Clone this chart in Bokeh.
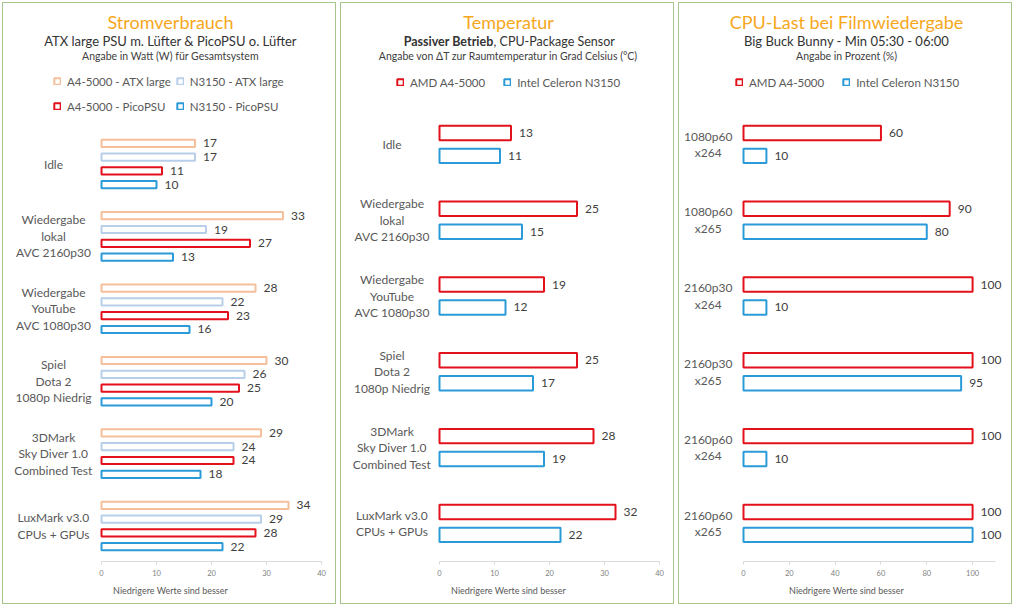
from bokeh.plotting import figure
from bokeh.models import Range1d, Label, Legend, LegendItem, ColumnDataSource, FixedTicker
from bokeh.layouts import row
from bokeh.transform import dodge
from bokeh.embed import file_html
from bokeh.resources import INLINE
from bokeh.core.properties import value

FONT = "Lato"

# ---------------- data ----------------
power_categories = ["Idle", "Wiedergabe\nlokal\nAVC 2160p30", "Wiedergabe\nYouTube\nAVC 1080p30",
                    "Spiel\nDota 2\n1080p Niedrig", "3DMark\nSky Diver 1.0\nCombined Test",
                    "LuxMark v3.0\nCPUs + GPUs"]
power_series = ["A4-5000 - ATX large", "N3150 - ATX large", "A4-5000 - PicoPSU", "N3150 - PicoPSU"]
power_a4_atx = [17, 33, 28, 30, 29, 34]
power_n3150_atx = [17, 19, 22, 26, 24, 29]
power_a4_pico = [11, 27, 23, 25, 24, 28]
power_n3150_pico = [10, 13, 16, 20, 18, 22]
power_ticks = [0, 10, 20, 30, 40]

temp_categories = list(power_categories)
temp_series = ["AMD A4-5000", "Intel Celeron N3150"]
temp_a4 = [13, 25, 19, 25, 28, 32]
temp_n3150 = [11, 15, 12, 17, 19, 22]
temp_ticks = [0, 10, 20, 30, 40]

cpu_categories = ["1080p60\nx264", "1080p60\nx265", "2160p30\nx264", "2160p30\nx265",
                  "2160p60\nx264", "2160p60\nx265"]
cpu_series = ["AMD A4-5000", "Intel Celeron N3150"]
cpu_a4 = [60, 90, 100, 100, 100, 100]
cpu_n3150 = [10, 80, 10, 95, 10, 100]
cpu_ticks = [0, 20, 40, 60, 80, 100]

axis_text = "Niedrigere Werte sind besser"

# ---------------- style ----------------
ORANGE_LIGHT = "#f5bf9b"
BLUE_LIGHT = "#b7cfe9"
RED = "#e3111b"
BLUE = "#2b9ad8"
TITLE_COL = "#f6a71c"
BORDER = "#a5c58b"

W, H = 334, 602
FRAME_BOTTOM = 558


def build(cats, names, vals_list, cols, ticks, xmax, zero_px, end_px, c0, gap,
          sub_gap, bar_h, cat_cx, legend_loc, legend_ncols, legend_spacing, texts):
    pxu = (end_px - zero_px) / xmax
    p = figure(width=W, height=H, output_backend="svg", toolbar_location=None, tools="",
               x_range=Range1d(-zero_px / pxu, (W - zero_px) / pxu),
               y_range=Range1d((FRAME_BOTTOM - c0) / gap, (0 - c0) / gap),
               min_border_left=0, min_border_right=0,
               min_border_top=0, min_border_bottom=H - FRAME_BOTTOM,
               y_axis_location=None,
               styles={"border": "1px solid " + BORDER})
    p.title.visible = False
    p.outline_line_color = None
    p.grid.visible = False
    p.background_fill_color = "white"
    p.border_fill_color = "white"

    def xd(cx):
        return (cx - zero_px) / pxu

    def yd(cy):
        return (cy - c0) / gap

    n = len(names)
    rends = []
    for k, (name, vals, col) in enumerate(zip(names, vals_list, cols)):
        off = (k - (n - 1) / 2) * sub_gap
        src = ColumnDataSource(dict(g=list(range(len(cats))), v=vals, t=[str(v) for v in vals]))
        r = p.hbar(y=dodge("g", off), right="v", left=0, height=bar_h, source=src,
                   fill_color="white", line_color=col, line_width=2)
        p.text(x="v", y=dodge("g", off), text="t", source=src, x_offset=8,
               text_baseline="middle", text_align="left", text_font=value(FONT),
               text_font_size="12px", text_color="#404040")
        rends.append(r)

    for g, c in enumerate(cats):
        p.add_layout(Label(x=xd(cat_cx), y=g, text=c, text_align="center",
                           text_baseline="middle", text_font=FONT, text_font_size="12px",
                           text_color="#595959", text_line_height=1.1))

    for (t, cx, cy, size, col, style, align) in texts:
        p.add_layout(Label(x=xd(cx), y=yd(cy), text=t, text_align=align,
                           text_baseline="middle", text_font=FONT, text_font_size=size,
                           text_color=col, text_font_style=style))

    leg = Legend(items=[LegendItem(label=nm, renderers=[r]) for nm, r in zip(names, rends)],
                 location=legend_loc, orientation="horizontal", ncols=legend_ncols,
                 glyph_width=8, glyph_height=8, label_height=20, label_standoff=6,
                 spacing=legend_spacing, padding=0, margin=0,
                 background_fill_alpha=0, border_line_color=None,
                 label_text_font=FONT, label_text_font_size="11.5px", label_text_color="#595959")
    p.add_layout(leg)

    ax = p.xaxis[0]
    ax.bounds = (0, xmax)
    ax.ticker = FixedTicker(ticks=ticks)
    ax.axis_line_color = "#d9d9d9"
    ax.major_tick_line_color = "#d9d9d9"
    ax.major_tick_out = 3
    ax.major_tick_in = 0
    ax.minor_tick_line_color = None
    ax.major_label_text_font = FONT
    ax.major_label_text_font_size = "7.5px"
    ax.major_label_text_color = "#808080"
    ax.major_label_standoff = 5
    ax.axis_label = axis_text
    ax.axis_label_text_font = FONT
    ax.axis_label_text_font_size = "9px"
    ax.axis_label_text_font_style = "normal"
    ax.axis_label_text_color = "#595959"
    ax.axis_label_standoff = 6
    return p


CX = 167
p1 = build(power_categories, power_series,
           [power_a4_atx, power_n3150_atx, power_a4_pico, power_n3150_pico],
           [ORANGE_LIGHT, BLUE_LIGHT, RED, BLUE], power_ticks, 40,
           98, 318, 160.5, 72.4, 0.1906, 0.10, 50,
           (50, 445), 2, 5,
           [("Stromverbrauch", CX, 18.5, "18px", TITLE_COL, "normal", "center"),
            ("ATX large PSU m. Lüfter & PicoPSU o. Lüfter", CX, 37.5, "13px", "#333333", "normal", "center"),
            ("Angabe in Watt (W) für Gesamtsystem", CX, 52, "10.5px", "#404040", "normal", "center")])

p2 = build(temp_categories, temp_series, [temp_a4, temp_n3150], [RED, BLUE], temp_ticks, 40,
           98, 318, 140.9, 75.8, 0.303, 0.191, 50.5,
           (55, 469), 2, 18,
           [("Temperatur", CX, 18.5, "18px", TITLE_COL, "normal", "center"),
            ("Passiver Betrieb", 152, 37.5, "12.5px", "#333333", "bold", "right"),
            (", CPU-Package Sensor", 152, 37.5, "12.5px", "#333333", "normal", "left"),
            ("Angabe von \u0394T zur Raumtemperatur in Grad Celsius (\u00b0C)", CX, 52.5, "10.5px", "#404040", "normal", "center")])

p3 = build(cpu_categories, cpu_series, [cpu_a4, cpu_n3150], [RED, BLUE], cpu_ticks, 110,
           64, 316, 140.9, 75.8, 0.303, 0.191, 28.7,
           (56, 469), 2, 18,
           [("CPU-Last bei Filmwiedergabe", CX, 18.5, "18px", TITLE_COL, "normal", "center"),
            ("Big Buck Bunny - Min 05:30 - 06:00", CX, 37.5, "13px", "#333333", "normal", "center"),
            ("Angabe in Prozent (%)", CX, 52.5, "10.5px", "#404040", "normal", "center")])

layout = row(p1, p2, p3, spacing=4)
layout.margin = (2, 0, 0, 2)

open("out.html", "w").write(file_html(layout, INLINE))
